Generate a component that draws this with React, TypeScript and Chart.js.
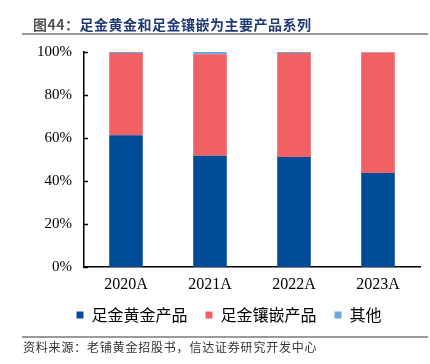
import React, { useEffect, useRef } from "react";
import { Chart, registerables } from "chart.js";

Chart.register(...registerables);

const categories = ["2020A", "2021A", "2022A", "2023A"];
const goldProducts = [61.3, 51.8, 51.2, 43.7];
const inlayProducts = [38.2, 47.2, 48.3, 56.1];
const others = [0.5, 1.0, 0.5, 0.2];
const seriesNames = ["足金黄金产品", "足金镶嵌产品", "其他"];
const yTicks = [0, 20, 40, 60, 80, 100];

const innerTicks = {
  id: "innerTicks",
  afterDraw(chart: any) {
    const { ctx, chartArea } = chart;
    const y = chart.scales.y;
    ctx.save();
    ctx.strokeStyle = "#000";
    ctx.lineWidth = 1.5;
    ctx.beginPath();
    yTicks.forEach((t) => {
      const py = Math.round(y.getPixelForValue(t)) + 0.5;
      ctx.moveTo(chartArea.left, py);
      ctx.lineTo(chartArea.left + 4, py);
    });
    ctx.stroke();
    ctx.restore();
  },
};

export default function App() {
  const ref = useRef<HTMLCanvasElement>(null);
  useEffect(() => {
    document.body.style.margin = "0";
    const chart = new Chart(ref.current!, {
      type: "bar",
      data: {
        labels: categories,
        datasets: [
          { label: seriesNames[0], data: goldProducts, backgroundColor: "#004C97" },
          { label: seriesNames[1], data: inlayProducts, backgroundColor: "#F16063" },
          { label: seriesNames[2], data: others, backgroundColor: "#6AA8E6" },
        ],
      },
      options: {
        animation: false,
        responsive: false,
        devicePixelRatio: 1,
        layout: { padding: { top: 52, right: 10, bottom: 31, left: 38 } },
        datasets: { bar: { barPercentage: 0.4, categoryPercentage: 1 } },
        plugins: {
          tooltip: { enabled: false },
          legend: {
            position: "bottom",
            labels: {
              boxWidth: 7,
              boxHeight: 7,
              padding: 18,
              color: "#000",
              font: { family: "'Noto Sans CJK SC'", size: 16 },
            },
          },
        },
        scales: {
          x: {
            stacked: true,
            grid: { display: false, drawTicks: false },
            border: { display: true, color: "#000", width: 1.5 },
            ticks: {
              color: "#000",
              padding: 8,
              font: { family: "'Liberation Serif'", size: 16 },
            },
            afterFit(scale: any) {
              scale.height = 22;
            },
          },
          y: {
            stacked: true,
            min: 0,
            max: 100,
            grid: { display: false, drawTicks: false },
            border: { display: true, color: "#000", width: 1.5 },
            afterBuildTicks(scale: any) {
              scale.ticks = yTicks.map((v) => ({ value: v }));
            },
            ticks: {
              color: "#000",
              padding: 12,
              font: { family: "'Liberation Serif'", size: 15 },
              callback: (v: any) => v + "%",
            },
            afterFit(scale: any) {
              scale.width = 46;
            },
          },
        },
      },
      plugins: [innerTicks],
    });
    return () => chart.destroy();
  }, []);

  return (
    <div style={{ position: "relative", width: 430, height: 364, background: "#fff" }}>
      <canvas ref={ref} width={430} height={364} style={{ position: "absolute", left: 0, top: 0 }} />
      <div
        style={{
          position: "absolute",
          left: 33,
          top: 14,
          fontFamily: "'Noto Sans CJK SC'",
          fontWeight: "bold",
          fontSize: 14,
          letterSpacing: 0.5,
          lineHeight: "20px",
          whiteSpace: "nowrap",
          color: "#1F3A73",
        }}
      >
        <span style={{ color: "#555" }}>图44：</span>足金黄金和足金镶嵌为主要产品系列
      </div>
      <div style={{ position: "absolute", left: 22, top: 33, width: 406, height: 2, background: "#9a9a9a" }} />
      <div style={{ position: "absolute", left: 22, top: 336, width: 406, height: 1.5, background: "#9a9a9a" }} />
      <div
        style={{
          position: "absolute",
          left: 23,
          top: 339,
          fontFamily: "'Noto Sans CJK SC'",
          fontSize: 12,
          letterSpacing: 0.8,
          lineHeight: "16px",
          whiteSpace: "nowrap",
          color: "#333",
        }}
      >
        资料来源：老铺黄金招股书，信达证券研究开发中心
      </div>
    </div>
  );
}
